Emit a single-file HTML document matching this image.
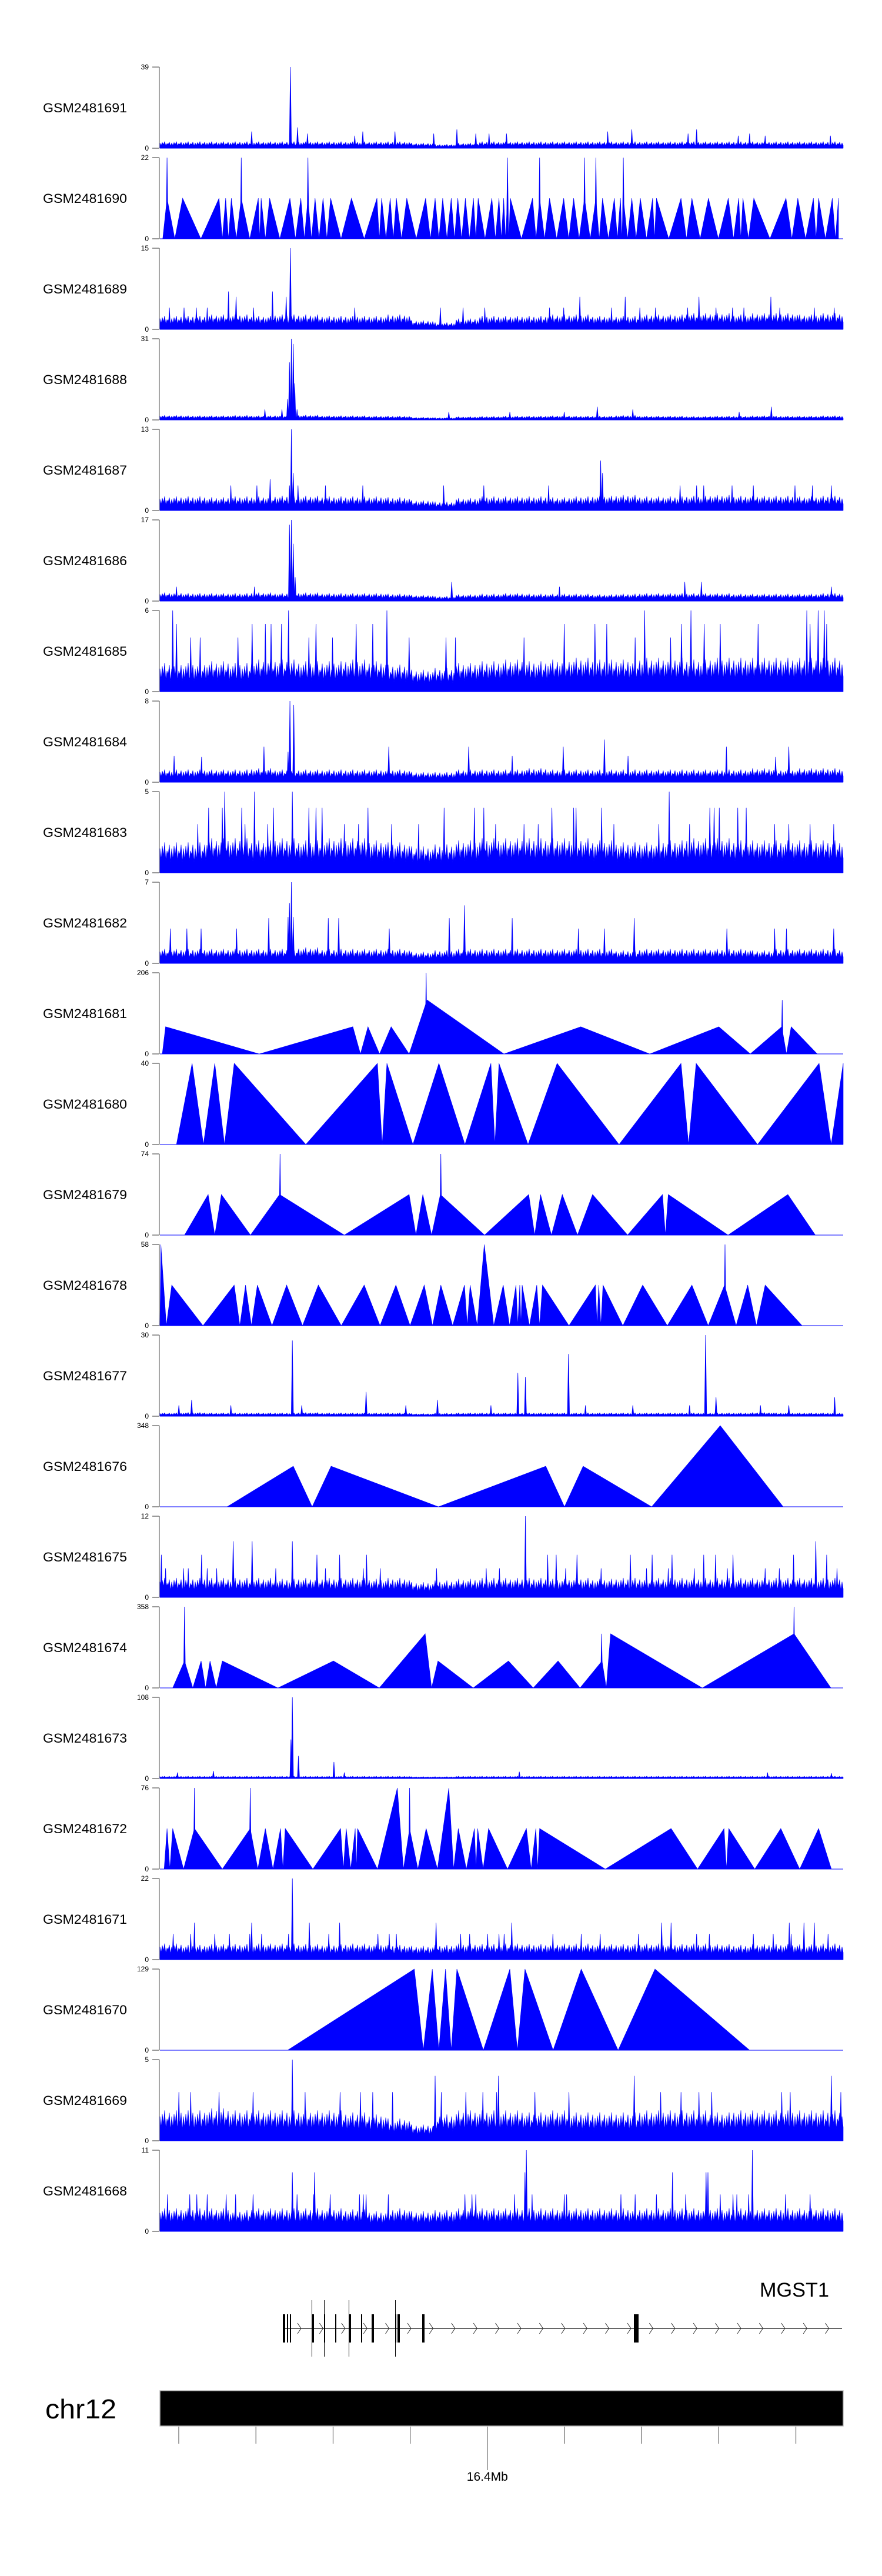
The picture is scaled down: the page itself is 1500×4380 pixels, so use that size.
<!DOCTYPE html>
<html><head><meta charset="utf-8"><title>GSM tracks – MGST1</title>
<style>
html,body{margin:0;padding:0;background:#fff;}
svg{display:block;font-family:"Liberation Sans",Arial,sans-serif;}
</style></head>
<body>
<svg id="chart" width="1500" height="4380" viewBox="0 0 1500 4380" xmlns="http://www.w3.org/2000/svg"></svg>
<script>
// ---- data ----
const trackNames = ["GSM2481691","GSM2481690","GSM2481689","GSM2481688","GSM2481687","GSM2481686","GSM2481685","GSM2481684","GSM2481683","GSM2481682","GSM2481681","GSM2481680","GSM2481679","GSM2481678","GSM2481677","GSM2481676","GSM2481675","GSM2481674","GSM2481673","GSM2481672","GSM2481671","GSM2481670","GSM2481669","GSM2481668"];
const trackMax = [39,22,15,31,13,17,6,8,5,7,206,40,74,58,30,348,12,358,108,76,22,129,5,11];
const trackType = ["noise","tri","noise","noise","noise","noise","noise","noise","noise","noise","tri","tri","tri","tri","noise","tri","noise","tri","noise","tri","noise","tri","noise","noise"];

// background levels (noise tracks), by region
const bg0 = [2.5,2.5,2.5,2.5,2.5,2.5,2.5,2.5,2.5,2.5,2.5,2,1.5,2,2.5,2.5,2.5,2.5,2.5,2.5,2.5,2.5,2.5,2.5,2.5,2.5,2.5,2.5,2.5,2.5];
const bg2 = [2,2,2.2,2.2,2,2.2,2.2,2,2,2,2.2,1.3,1,1.6,2,2,2,2.2,2.2,2,2,2.2,2.2,2.4,2.4,2.2,2.4,2.4,2.2,2.4];
const bg3 = [1.4,1.3,1.3,1.4,1.3,1.4,1.5,1.3,1.3,1.2,1.2,0.8,0.7,1,1.1,1.2,1.2,1.3,1.2,1.2,1.4,1.2,1.2,1.1,1.2,1.2,1.3,1.2,1.2,1.3];
const bg4 = [1.8,1.8,1.7,1.8,1.8,1.9,1.9,1.8,1.8,1.8,1.7,1.3,1.1,1.6,1.8,1.8,1.8,1.7,1.8,1.9,2,1.8,1.8,1.9,2,1.9,1.9,1.9,1.8,1.9];
const bg5 = [1.4,1.3,1.3,1.3,1.4,1.3,1.4,1.3,1.3,1.3,1.2,1,0.8,1.1,1.2,1.3,1.2,1.2,1.2,1.1,1.2,1.3,1.3,1.3,1.3,1.2,1.2,1.2,1.2,1.3];
const bg6 = [1.7,1.7,1.8,1.7,1.9,1.9,1.8,1.8,1.9,1.8,1.6,1.3,1.4,1.7,1.8,1.9,1.8,1.9,2,1.9,1.9,2,2,1.9,2,2,2,2,2,2];
const bg7 = [1,1,1,1,1.1,1,1,1,1,1,1,0.8,0.8,1,1,1,1.1,1,1,1,1,1,1,1,1,1,1.1,1,1.1,1.1];
const bg8 = [1.5,1.5,1.7,1.7,1.6,1.7,1.6,1.7,1.7,1.6,1.5,1.3,1.4,1.6,1.7,1.7,1.7,1.7,1.7,1.6,1.5,1.5,1.6,1.7,1.7,1.6,1.6,1.6,1.6,1.6];
const bg9 = [1,1,1,1,1,1,1.1,1,1,1,1,0.8,0.9,1,1,1,1,1,1,1,0.9,1,1,1,1,1,0.9,1,1,1];
const bg14 = [1,1.1,1,1,1,1,1.1,1,1,1,1,0.8,0.9,1,1,1,1,1,1,1,1,1,1,1,1,1,1.1,1,1,1];
const bg16 = [2.3,2.3,2.3,2.3,2.3,2.2,2.3,2.3,2.3,2.2,2.3,1.8,2,2.2,2.3,2.3,2.3,2.2,2.3,2.2,2.3,2.3,2.3,2.3,2.3,2.3,2.3,2.3,2.3,2.3];
const bg18 = [2.5,2.5,2.5,2.5,2.5,2.5,2.5,2.5,2.5,2.5,2.5,2,2,2.5,2.5,2.5,2.5,2.5,2.5,2.5,2.5,2.5,2.5,2.5,2.5,2.5,2.5,2.5,2.5,2.5];
const bg20 = [3.5,3.2,3.4,3.4,3.5,3.5,3.4,3.3,3.5,3.4,3.2,3,3.2,3.5,3.4,3.5,3.4,3.5,3.5,3.4,3.4,3.5,3.4,3.5,3.4,3.2,3.4,3.4,3.3,3.5];
const bg22 = [1.5,1.5,1.6,1.5,1.5,1.5,1.5,1.5,1.4,1.3,1.1,0.8,1.3,1.5,1.5,1.5,1.4,1.5,1.4,1.4,1.4,1.5,1.5,1.5,1.4,1.5,1.5,1.5,1.5,1.5];
const bg23 = [2.5,2.5,2.5,2.3,2.5,2.5,2.5,2.5,2.4,2.2,2.5,2.2,2.3,2.5,2.5,2.5,2.5,2.5,2.5,2.5,2.5,2.5,2.5,2.5,2.5,2.5,2.5,2.5,2.5,2.5];

// spikes (position in bins 0..1445, value)
const sp0Pos = [276,291,194,312,412,429,497,579,628,668,696,733,947,998,1117,1135,1223,1247,1280,1418];
const sp0Val = [39,10,8,7,6,8,8,7,9,7,7,7,8,9,7,9,6,7,6,6];
const sp2Pos = [276,145,161,238,267,888,984,1140,1292,20,51,77,100,198,412,593,641,687,824,854,955,1015,1048,1116,1176,1211,1235,1311,1384,1426];
const sp2Val = [15,7,6,7,6,6,6,6,6,4,4,4,4,4,4,4,4,4,4,4,4,4,4,4,4,4,4,4,4,4];
const sp3Pos = [270,274,278,282,285,290,222,258,925,1000,1293,611,740,855,1225];
const sp3Val = [8,22,31,29,14,4,4,4,5,4,5,3,3,3,3];
const sp4Pos = [278,282,274,233,936,932,150,205,292,350,429,600,685,822,1100,1135,1150,1210,1255,1343,1380,1420];
const sp4Val = [13,6,4,5,6,8,4,4,4,4,4,4,4,4,4,4,4,4,4,4,4,4];
const sp5Pos = [274,278,282,286,1145,1110,617,845,200,35,1420];
const sp5Val = [16,17,12,5,4,4,4,3,3,3,3];
const sp6Pos = [27,272,480,1025,1123,1368,1392,1405,35,195,223,235,257,330,415,450,855,920,945,1103,1151,1185,1265,1375,1410,65,85,165,315,365,527,605,625,770,1005,1080];
const sp6Val = [6,6,6,6,6,6,6,6,5,5,5,5,5,5,5,5,5,5,5,5,5,5,5,5,5,4,4,4,4,4,4,4,4,4,4,4];
const sp7Pos = [275,283,271,30,220,484,653,853,940,1198,1330,1302,88,745,990];
const sp7Val = [8,7.6,3,2.6,3.5,3.5,3.5,3.5,4.2,3.5,3.5,2.5,2.5,2.6,2.6];
const sp8Pos = [137,200,280,1077,103,132,173,240,315,330,343,440,601,665,685,829,875,880,934,1163,1172,1183,1222,1240,80,180,228,390,420,490,547,710,770,800,960,1055,1120,1300,1330,1375,1425];
const sp8Val = [5,5,5,5,4,4,4,4,4,4,4,4,4,4,4,4,4,4,4,4,4,4,4,4,3,3,3,3,3,3,3,3,3,3,3,3,3,3,3,3,3];
const sp9Pos = [278,274,271,282,644,230,356,378,612,745,1003,885,940,1199,1300,1325,22,57,87,162,485,1425];
const sp9Val = [7,5.2,4,4,5,3.9,3.9,3.9,3.9,3.9,3.9,3,3,3,3,3,3,3,3,3,3,3];
const sp14Pos = [280,436,757,773,864,1154,1176,67,587,1427,40,150,300,520,700,900,1000,1120,1270,1330];
const sp14Val = [28,9,16,14.5,23,30,7,6,6,7,4,4,4,4,4,4,4,4,4,4];
const sp16Pos = [773,155,195,280,1387,3,88,332,380,437,820,838,882,995,1041,1083,1150,1175,1212,1340,1410,12,50,60,100,120,245,350,430,466,585,690,718,858,933,1029,1075,1130,1200,1280,1310,1432];
const sp16Val = [12,8.3,8.3,8.3,8.3,6.3,6.3,6.3,6.3,6.3,6.3,6.3,6.3,6.3,6.3,6.3,6.3,6.3,6.3,6.3,6.3,4.3,4.3,4.3,4.3,4.3,4.3,4.3,4.3,4.3,4.3,4.3,4.3,4.3,4.3,4.3,4.3,4.3,4.3,4.3,4.3,4.3];
const sp18Pos = [280,277,293,368,390,113,760,1285,1420,37];
const sp18Val = [108,52,30,22,8,10,9,8,7,8];
const sp20Pos = [280,73,194,316,380,584,744,1061,1081,1331,1362,1384,28,65,116,147,190,215,272,357,461,485,500,636,655,693,717,728,831,891,931,1012,1135,1162,1255,1297,1335,1413];
const sp20Val = [22,10,10,10,10,10,10,10,10,10,10,10,7,7,7,7,7,7,7,7,7,7,7,7,7,7,7,7,7,7,7,7,7,7,7,7,7,7];
const sp22Pos = [280,582,716,1003,1420,40,65,125,197,307,381,424,450,492,595,647,683,712,793,865,1059,1102,1140,1167,1315,1333,1440];
const sp22Val = [5,4,4,4,4,3,3,3,3,3,3,3,3,3,3,3,3,3,3,3,3,3,3,3,3,3,3];
const sp23Pos = [775,1253,280,327,772,1084,1159,1155,16,63,78,100,140,160,197,290,325,360,422,430,436,483,645,660,668,750,787,855,860,975,1005,1050,1112,1185,1212,1220,1245,1323,1375];
const sp23Val = [11,11,8,8,8,8,8,8,5,5,5,5,5,5,5,5,5,5,5,5,5,5,5,5,5,5,5,5,5,5,5,5,5,5,5,5,5,5,5];

// triangle (sparse) tracks: peaks, start/end, spikes
const pk1Pos = [15,48,125,139,151,172,208,214,232,275,298,313,328,345,361,405,459,469,487,500,522,562,582,598,616,630,646,663,673,702,717,727,735,741,788,803,824,854,875,898,922,936,961,974,980,998,1016,1042,1050,1102,1125,1160,1202,1224,1233,1256,1324,1349,1382,1393,1422,1435];
const pk1Val = [11,11,11,11,11,11,11,11,11,11,11,11,11,11,11,11,11,11,11,11,11,11,11,11,11,11,11,11,11,11,11,11,11,11,11,11,11,11,11,11,11,11,11,11,11,11,11,11,11,11,11,11,11,11,11,11,11,11,11,11,11,11];
const sp1Pos = [15,172,313,735,803,898,922,980];
const sp1Val = [22,22,22,22,22,22,22,22];
const pk10Pos = [12,408,440,489,565,890,1182,1315,1335];
const pk10Val = [69,69,69,69,137,69,69,69,69];
const sp10Pos = [563,1316]; const sp10Val = [206,137];
const pk11Pos = [68,116,157,460,480,590,700,717,840,1102,1134,1394,1445];
const pk11Val = [40,40,40,40,40,40,40,40,40,40,40,40,40];
const pk12Pos = [102,130,253,527,556,593,780,805,851,915,1063,1075,1328];
const pk12Val = [37,37,37,37,37,37,37,37,37,37,37,37,37];
const sp12Pos = [254,594]; const sp12Val = [74,74];
const pk13Pos = [2,25,157,181,206,268,335,432,499,559,594,644,656,686,726,753,761,766,797,809,921,928,937,1021,1125,1194,1243,1280];
const pk13Val = [58,29,29,29,29,29,29,29,29,29,29,29,29,58,29,29,29,29,29,29,29,29,29,29,29,29,29,29];
const sp13Pos = [1195]; const sp13Val = [58];
const pk15Pos = [282,362,816,895,1185];
const pk15Val = [174,174,174,174,348];
const pk17Pos = [52,87,106,132,367,561,588,737,842,935,953,1341];
const pk17Val = [119,119,119,119,119,239,119,119,119,119,239,239];
const sp17Pos = [52,934,1341]; const sp17Val = [358,239,358];
const pk19Pos = [15,27,73,191,223,255,265,382,394,413,418,502,528,563,611,631,665,672,695,775,795,803,1081,1193,1203,1313,1393];
const pk19Val = [38,38,38,38,38,38,38,38,38,38,38,76,38,38,76,38,38,38,38,38,38,38,38,38,38,38,38];
const sp19Pos = [73,191,528]; const sp19Val = [76,76,76];
const pk21Pos = [538,576,604,628,740,772,891,1047];
const pk21Val = [129,129,129,129,129,129,129,129];

const noiseData = {0:[bg0,sp0Pos,sp0Val],2:[bg2,sp2Pos,sp2Val],3:[bg3,sp3Pos,sp3Val],4:[bg4,sp4Pos,sp4Val],5:[bg5,sp5Pos,sp5Val],6:[bg6,sp6Pos,sp6Val],7:[bg7,sp7Pos,sp7Val],8:[bg8,sp8Pos,sp8Val],9:[bg9,sp9Pos,sp9Val],14:[bg14,sp14Pos,sp14Val],16:[bg16,sp16Pos,sp16Val],18:[bg18,sp18Pos,sp18Val],20:[bg20,sp20Pos,sp20Val],22:[bg22,sp22Pos,sp22Val],23:[bg23,sp23Pos,sp23Val]};
const triData = {1:[pk1Pos,pk1Val,6,1435,sp1Pos,sp1Val],10:[pk10Pos,pk10Val,5,1390,sp10Pos,sp10Val],11:[pk11Pos,pk11Val,35,1445,[],[]],12:[pk12Pos,pk12Val,52,1386,sp12Pos,sp12Val],13:[pk13Pos,pk13Val,0,1358,sp13Pos,sp13Val],15:[pk15Pos,pk15Val,142,1318,[],[]],17:[pk17Pos,pk17Val,27,1419,sp17Pos,sp17Val],19:[pk19Pos,pk19Val,9,1420,sp19Pos,sp19Val],21:[pk21Pos,pk21Val,270,1247,[],[]]};

// gene model (offsets in px from gene start)
const exonPos = [0,2,7,12,49,70,89,112,133,151,191,195,237,597];
const exonW   = [1,1,1,1,2,1,1,2,1,2,1,2,2,4];
const exonTall= [0,0,0,0,1,1,0,1,0,0,1,0,0,0];
const chrTicks = [0,1,2,3,4,5,6,7,8];
const chrLabelIdx = 4;

// ---- layout ----
const NS="http://www.w3.org/2000/svg";
const svg=document.getElementById('chart');
const X0=272, X1=1434, DOM=1445;
const xs=p=>X0+(p/DOM)*(X1-X0);
const TOP0=114, PITCH=154, H=138;
const BLUE="#0000ff";
function mk(tag,attrs,parent){const e=document.createElementNS(NS,tag);for(const k in attrs)e.setAttribute(k,attrs[k]);(parent||svg).appendChild(e);return e;}

trackNames.forEach((name,i)=>{
  const top=TOP0+PITCH*i, base=top+H, mx=trackMax[i];
  const ys=v=>base-(v/mx)*H;
  const g=mk('g',{});
  
  
  const lab=mk('text',{x:73,y:base-69+8,'font-size':22,textLength:143,lengthAdjust:'spacingAndGlyphs',fill:'#000'},g);
  lab.textContent=name;
  
  
  const ax=mk('line',{x1:271,y1:top,x2:271,y2:base,stroke:'#888','stroke-width':1.5},g);
  
  
  [[mx,top],[0,base]].forEach(([v,y])=>{
    mk('line',{x1:259,y1:y,x2:271,y2:y,stroke:'#555','stroke-width':1.2},g);
    const t=mk('text',{x:253,y:y+4,'font-size':12,'text-anchor':'end',fill:'#000'},g);
    t.textContent=v;
    
    
  });
  let pts=[];
  let spP=[],spV=[];
  if(trackType[i]==='noise'){
    const [bg,sP,sV]=noiseData[i];
    const tex=[1,0.55,1.1,0.7,1.25,0.5,0.9,0.75,1.15,0.45];
    pts.push([X0,base]);
    let k=0;
    for(let px=X0;px<=X1;px+=2,k++){
      const seg=Math.min(bg.length-1,Math.floor((px-X0)/(X1-X0)*bg.length));
      pts.push([px,ys(bg[seg]*tex[k%tex.length])]);
    }
    pts.push([X1,base]);
    spP=sP;spV=sV;
  } else {
    const [pP,pV,st,en,sP,sV]=triData[i];
    pts.push([xs(st),base]);
    pP.forEach((p,j)=>{ if(j>0) pts.push([xs((pP[j-1]+p)/2),base]); pts.push([xs(p),ys(pV[j])]); });
    pts.push([xs(en),base]);
    spP=sP;spV=sV;
  }
  const poly=mk('polygon',{points:pts.map(q=>q[0].toFixed(1)+','+q[1].toFixed(1)).join(' '),fill:BLUE,stroke:BLUE,'stroke-width':0.6},g);
  
  
  spP.forEach((p,j)=>{
    const s=mk('polygon',{points:`${(xs(p)-1.8).toFixed(1)},${base} ${xs(p).toFixed(1)},${ys(spV[j]).toFixed(1)} ${(xs(p)+1.8).toFixed(1)},${base}`,fill:BLUE,stroke:BLUE,'stroke-width':0.8},g);
    
    
  });
  mk('line',{x1:X0,y1:base,x2:X1,y2:base,stroke:BLUE,'stroke-width':1},g);
});

// ---- gene track ----
const gg=mk('g',{});


const gname=mk('text',{x:1292,y:3905,'font-size':34,textLength:118,lengthAdjust:'spacingAndGlyphs',fill:'#000'},gg);
gname.textContent='MGST1';


const GX0=481, GX1=1432, GY=3959;
mk('line',{x1:GX0,y1:GY,x2:GX1,y2:GY,stroke:'#333','stroke-width':1.5},gg);
for(let cx=509;cx<1415;cx+=37.4){
  mk('polyline',{points:`${cx-3},${GY-9} ${cx+3},${GY} ${cx-3},${GY+9}`,fill:'none',stroke:'#333','stroke-width':1},gg);
}
exonPos.forEach((p,j)=>{
  const x=GX0+p;
  const r=mk('rect',{x:x,y:3935,width:exonW[j]*2,height:48,fill:'#000'},gg);
  
  
  if(exonTall[j]) mk('line',{x1:x+0.5,y1:3911,x2:x+0.5,y2:4007,stroke:'#000','stroke-width':1},gg);
});

// ---- ideogram ----
const ig=mk('g',{});


const cl=mk('text',{x:77,y:4112,'font-size':46,textLength:121,lengthAdjust:'spacingAndGlyphs',fill:'#000'},ig);
cl.textContent='chr12';


const bar=mk('rect',{x:X0,y:4065,width:X1-X0,height:60,fill:'#000',stroke:'#bbb','stroke-width':1.5},ig);


chrTicks.forEach(t=>{
  const x=304+t*131.2;
  mk('line',{x1:x,y1:4126,x2:x,y2:t===chrLabelIdx?4200:4155,stroke:'#444','stroke-width':1},ig);
});
const tl=mk('text',{x:304+chrLabelIdx*131.2,y:4218,'font-size':21,'text-anchor':'middle',fill:'#000'},ig);
tl.textContent='16.4Mb';


</script>
</body></html>
